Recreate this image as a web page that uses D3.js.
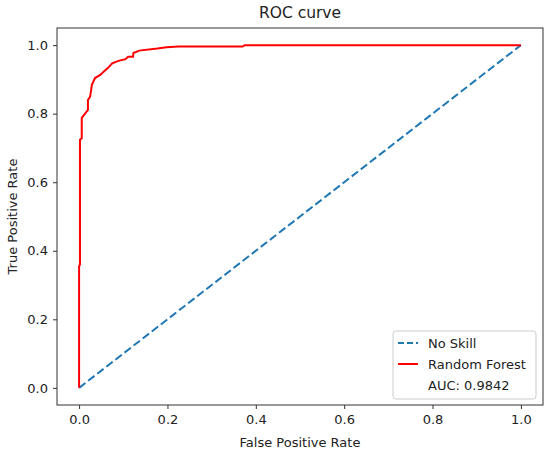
<!DOCTYPE html>
<html>
<head>
<meta charset="utf-8">
<script src="https://cdn.jsdelivr.net/npm/d3@7"></script>
<style>
  body { margin: 0; background: #fff; }
  svg text { font-family: "DejaVu Sans", sans-serif; fill: #222; }
</style>
</head>
<body>
<div id="container"></div>
<script>
// ROC points
const rfFpr = [0, 0, 0.002, 0.002, 0.006, 0.006, 0.02, 0.02, 0.025, 0.029, 0.036, 0.048, 0.055, 0.065, 0.075, 0.089, 0.105, 0.111, 0.122, 0.123, 0.136, 0.177, 0.198, 0.225, 0.370, 0.375, 1.0];
const rfTpr = [0, 0.355, 0.36, 0.724, 0.728, 0.788, 0.811, 0.840, 0.850, 0.884, 0.904, 0.913, 0.922, 0.933, 0.947, 0.954, 0.959, 0.966, 0.966, 0.977, 0.984, 0.990, 0.994, 0.996, 0.996, 1.0, 1.0];
const noSkill = [0, 1];
const ticks = [0, 0.2, 0.4, 0.6, 0.8, 1.0];
const legendLabels = ["No Skill", "Random Forest", "AUC: 0.9842"];

const width = 550, height = 455;
const frame = { left: 57, right: 543, top: 28, bottom: 405 };

const svg = d3.select("#container").append("svg")
  .attr("width", width)
  .attr("height", height);

const x = d3.scaleLinear().domain([-0.05, 1.05]).range([frame.left, frame.right]);
const y = d3.scaleLinear().domain([-0.05, 1.05]).range([frame.bottom, frame.top]);

// axes
svg.append("g")
  .attr("transform", `translate(0,${frame.bottom})`)
  .call(d3.axisBottom(x).tickValues(ticks).tickFormat(d3.format(".1f")).tickSize(4).tickPadding(6))
  .call(g => g.select(".domain").remove())
  .call(g => g.selectAll("text").attr("font-size", 13));

svg.append("g")
  .attr("transform", `translate(${frame.left},0)`)
  .call(d3.axisLeft(y).tickValues(ticks).tickFormat(d3.format(".1f")).tickSize(4).tickPadding(5))
  .call(g => g.select(".domain").remove())
  .call(g => g.selectAll("text").attr("font-size", 13));

svg.selectAll(".tick line").attr("stroke", "#333");
svg.selectAll(".tick text").attr("fill", "#222").attr("font-family", "DejaVu Sans, sans-serif");

// lines
const line = d3.line().x(d => x(d[0])).y(d => y(d[1]));

svg.append("path")
  .datum(noSkill.map(v => [v, v]))
  .attr("d", line)
  .attr("fill", "none")
  .attr("stroke", "#1f77b4")
  .attr("stroke-width", 2)
  .attr("stroke-dasharray", "8,3.5");

svg.append("path")
  .datum(rfFpr.map((f, i) => [f, rfTpr[i]]))
  .attr("d", line)
  .attr("fill", "none")
  .attr("stroke", "red")
  .attr("stroke-width", 2);

// frame
svg.append("rect")
  .attr("x", frame.left).attr("y", frame.top)
  .attr("width", frame.right - frame.left)
  .attr("height", frame.bottom - frame.top)
  .attr("fill", "none")
  .attr("stroke", "#333")
  .attr("stroke-width", 1);

// titles
svg.append("text")
  .attr("x", (frame.left + frame.right) / 2).attr("y", 18)
  .attr("text-anchor", "middle").attr("font-size", 15.5)
  .text("ROC curve");

svg.append("text")
  .attr("x", (frame.left + frame.right) / 2).attr("y", 447)
  .attr("text-anchor", "middle").attr("font-size", 13)
  .text("False Positive Rate");

svg.append("text")
  .attr("transform", `translate(17,${(frame.top + frame.bottom) / 2}) rotate(-90)`)
  .attr("text-anchor", "middle").attr("font-size", 13)
  .text("True Positive Rate");

// legend
const legend = svg.append("g").attr("transform", "translate(393,331)");
legend.append("rect")
  .attr("width", 143).attr("height", 68).attr("rx", 3)
  .attr("fill", "#fff").attr("fill-opacity", 0.8)
  .attr("stroke", "#ccc");

const rows = legend.selectAll("g.row")
  .data(legendLabels)
  .enter().append("g")
  .attr("transform", (d, i) => `translate(0,${12 + i * 21})`);

rows.filter((d, i) => i < 2).append("line")
  .attr("x1", 5).attr("x2", 25)
  .attr("stroke", (d, i) => i === 0 ? "#1f77b4" : "red")
  .attr("stroke-width", 2)
  .attr("stroke-dasharray", (d, i) => i === 0 ? "6,3" : null);

rows.append("text")
  .attr("x", 35).attr("dy", "0.35em")
  .attr("font-size", 13)
  .text(d => d);
</script>
</body>
</html>
